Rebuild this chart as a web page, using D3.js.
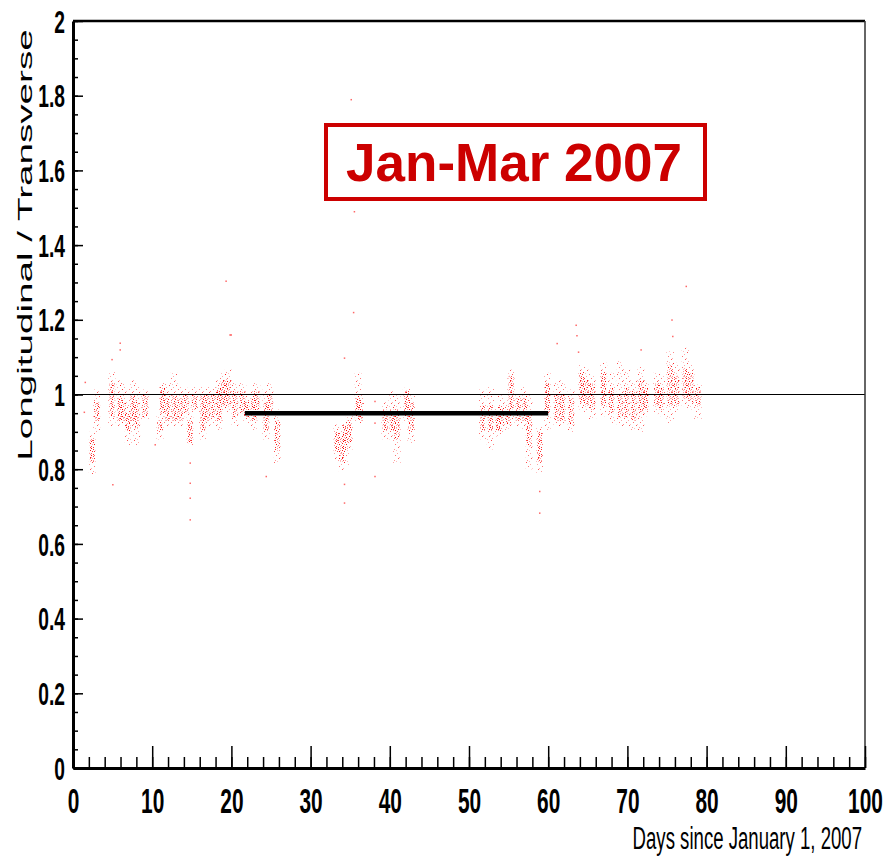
<!DOCTYPE html>
<html>
<meta charset="utf-8">
<style>
body { margin: 0; background: #fff; }
svg { display: block; font-family: "Liberation Sans", Arial, sans-serif; }
.axis line, .axis path { stroke: #000; }
</style>
<body>
<svg id="chart" width="893" height="864"></svg>
<script src="https://d3js.org/d3.v7.min.js"></script>
<script>
// streaks of points: [day, low, high, coreLow, coreHigh]
var streaks = [
  [2.44, 0.786, 0.900, 0.82, 0.88],
  [2.99, 0.897, 1.013, 0.93, 0.98],
  [4.90, 0.915, 1.060, 0.94, 1.03],
  [5.93, 0.915, 1.040, 0.93, 0.99],
  [6.35, 0.915, 1.030, 0.93, 0.98],
  [6.99, 0.862, 0.978, 0.90, 0.95],
  [7.53, 0.915, 1.040, 0.93, 1.00],
  [8.04, 0.862, 1.022, 0.91, 0.98],
  [9.09, 0.933, 1.013, 0.94, 1.00],
  [10.98, 0.879, 0.942, 0.90, 0.93],
  [11.32, 0.942, 1.031, 0.95, 1.02],
  [11.91, 0.915, 1.030, 0.93, 0.99],
  [12.75, 0.915, 1.058, 0.93, 1.00],
  [13.51, 0.915, 1.022, 0.93, 0.99],
  [14.27, 0.942, 1.018, 0.95, 1.00],
  [14.77, 0.862, 0.942, 0.87, 0.93],
  [15.32, 0.951, 1.022, 0.96, 1.00],
  [16.37, 0.879, 1.022, 0.90, 1.00],
  [16.96, 0.915, 1.022, 0.93, 1.00],
  [17.72, 0.924, 1.022, 0.94, 1.00],
  [18.48, 0.906, 1.040, 0.93, 1.02],
  [18.98, 0.960, 1.058, 0.97, 1.04],
  [19.61, 0.951, 1.067, 0.97, 1.04],
  [20.45, 0.915, 1.031, 0.94, 1.01],
  [21.42, 0.942, 1.031, 0.95, 1.01],
  [21.93, 0.924, 0.996, 0.94, 0.98],
  [22.85, 0.906, 1.013, 0.93, 0.99],
  [23.19, 0.951, 1.031, 0.96, 1.01],
  [24.37, 0.879, 1.013, 0.90, 0.98],
  [24.87, 0.942, 1.031, 0.95, 1.00],
  [25.80, 0.817, 0.960, 0.85, 0.93],
  [33.30, 0.826, 0.920, 0.85, 0.90],
  [33.90, 0.795, 0.906, 0.82, 0.89],
  [34.40, 0.810, 0.933, 0.85, 0.92],
  [34.90, 0.853, 0.942, 0.87, 0.93],
  [36.00, 0.924, 1.058, 0.94, 0.99],
  [36.30, 0.924, 1.000, 0.93, 0.98],
  [39.40, 0.880, 0.982, 0.90, 0.96],
  [40.30, 0.880, 1.010, 0.90, 0.96],
  [40.90, 0.817, 1.000, 0.88, 0.96],
  [42.10, 0.924, 1.018, 0.94, 1.01],
  [42.70, 0.870, 1.000, 0.90, 0.98],
  [51.70, 0.880, 1.013, 0.90, 0.97],
  [52.70, 0.853, 1.022, 0.90, 0.97],
  [53.70, 0.888, 0.969, 0.90, 0.95],
  [54.10, 0.897, 1.000, 0.92, 0.97],
  [54.97, 0.906, 0.978, 0.92, 0.96],
  [55.30, 0.933, 1.067, 0.96, 1.05],
  [56.20, 0.915, 1.004, 0.93, 0.99],
  [57.00, 0.906, 1.022, 0.93, 0.99],
  [57.60, 0.800, 1.000, 0.86, 0.95],
  [58.90, 0.790, 0.915, 0.82, 0.90],
  [59.90, 0.906, 1.058, 0.95, 1.03],
  [61.10, 0.915, 1.031, 0.93, 1.00],
  [61.80, 0.915, 1.040, 0.93, 1.00],
  [62.90, 0.897, 1.013, 0.92, 0.99],
  [64.20, 0.960, 1.080, 0.98, 1.06],
  [64.80, 0.951, 1.067, 0.97, 1.04],
  [65.60, 0.933, 1.049, 0.96, 1.03],
  [67.00, 0.942, 1.085, 0.97, 1.06],
  [68.00, 0.924, 1.058, 0.95, 1.02],
  [69.10, 0.915, 1.089, 0.94, 1.00],
  [69.90, 0.915, 1.067, 0.94, 1.02],
  [70.80, 0.906, 1.040, 0.93, 1.01],
  [71.70, 0.897, 1.076, 0.95, 1.04],
  [72.30, 0.942, 1.040, 0.96, 1.02],
  [73.70, 0.951, 1.058, 0.97, 1.03],
  [74.30, 0.942, 1.049, 0.96, 1.02],
  [75.40, 0.924, 1.116, 0.97, 1.08],
  [76.20, 0.951, 1.085, 0.97, 1.05],
  [77.30, 0.969, 1.125, 0.99, 1.07],
  [78.00, 0.960, 1.080, 0.98, 1.06],
  [78.90, 0.933, 1.027, 0.97, 1.02]
];

// isolated points: [day, value]
var outliers = [
  [1.52, 1.033], [1.40, 0.953], [5.00, 0.759], [5.93, 1.138], [5.93, 1.120],
  [4.90, 1.094], [10.35, 0.866], [14.77, 0.817], [14.77, 0.763], [14.77, 0.723],
  [14.77, 0.665], [19.80, 1.160], [19.30, 1.304], [19.95, 1.160], [24.37, 0.781],
  [34.25, 1.098], [34.25, 0.760], [34.25, 0.710], [35.10, 1.790], [35.50, 1.490],
  [35.40, 1.220], [38.10, 0.982], [38.10, 0.924], [38.10, 0.781], [58.90, 0.741],
  [58.90, 0.683], [61.10, 1.137], [63.60, 1.158], [63.80, 1.114], [75.70, 1.156],
  [71.70, 1.120], [63.50, 1.186], [77.40, 1.290], [75.60, 1.200]
];

var refLevel = 1;
var meanLine = { from: 21.7, to: 60, value: 0.95 };
var xMajor = d3.range(0, 101, 10);
var xMinor = d3.range(0, 101, 2);
var yMajor = d3.range(0, 2.001, 0.2);
var yMinor = d3.range(0, 2.001, 0.05);
var titleText = "Jan-Mar 2007";
var xTitle = "Days since January 1, 2007";
var yTitle = "Longitudinal / Transverse";

var svg = d3.select("#chart");
var x = d3.scaleLinear().domain([0, 100]).range([73, 865]);
var y = d3.scaleLinear().domain([0, 2]).range([768, 21]);

// speckle textures for the point clouds (irregular dot layout in each tile)
var defs = svg.append("defs");
function speckle(id, w, h, dots) {
  var p = defs.append("pattern").attr("id", id)
    .attr("patternUnits", "userSpaceOnUse").attr("width", w).attr("height", h);
  dots.forEach(function(d) {
    p.append("rect").attr("x", d[0]).attr("y", d[1]).attr("width", 1).attr("height", 1)
      .attr("fill", "#ff0000").attr("fill-opacity", d[2]);
  });
}
speckle("sparse", 7, 11, [[1,0,.7],[5,2,.35],[3,4,.55],[0,6,.3],[6,7,.65],[2,9,.4],[4,10,.25]]);
speckle("dense", 7, 7, [[0,0,.95],[4,0,.4],[2,1,.7],[6,2,.9],[1,3,.35],[3,3,1],
  [5,4,.5],[0,5,.65],[2,6,.8],[6,6,.35],[4,5,.3]]);

// points
svg.append("g").selectAll("rect").data(streaks).enter().append("rect")
  .attr("x", function(d) { return x(d[0]) - 3.5; })
  .attr("width", 7)
  .attr("y", function(d) { return y(d[2]); })
  .attr("height", function(d) { return y(d[1]) - y(d[2]); })
  .attr("fill", "url(#sparse)");
svg.append("g").selectAll("rect").data(streaks).enter().append("rect")
  .attr("x", function(d) { return x(d[0]) - 2.5; })
  .attr("width", 5)
  .attr("y", function(d) { return y(d[4]); })
  .attr("height", function(d) { return y(d[3]) - y(d[4]); })
  .attr("fill", "url(#dense)");
svg.append("g").selectAll("rect").data(outliers).enter().append("rect")
  .attr("x", function(d) { return x(d[0]) - 0.5; })
  .attr("y", function(d) { return y(d[1]) - 0.5; })
  .attr("width", 1.5).attr("height", 1.5)
  .attr("fill", "#ff0000").attr("fill-opacity", 0.6);

// reference line at 1 and the mean bar
svg.append("line")
  .attr("x1", x(0)).attr("x2", x(100)).attr("y1", y(refLevel)).attr("y2", y(refLevel))
  .attr("stroke", "#000").attr("stroke-width", 1.2);
svg.append("line")
  .attr("x1", x(meanLine.from)).attr("x2", x(meanLine.to))
  .attr("y1", y(meanLine.value)).attr("y2", y(meanLine.value))
  .attr("stroke", "#000").attr("stroke-width", 4.5);

// frame top and right
svg.append("line").attr("x1", x(0)).attr("x2", x(100)).attr("y1", y(2)).attr("y2", y(2))
  .attr("stroke", "#000").attr("stroke-width", 2.5);
svg.append("line").attr("x1", x(100)).attr("x2", x(100)).attr("y1", y(2)).attr("y2", y(0))
  .attr("stroke", "#333").attr("stroke-width", 1.5);

// x axis
var gxMinor = svg.append("g").attr("class", "axis").attr("transform", "translate(0," + y(0) + ")")
  .call(d3.axisBottom(x).tickValues(xMinor).tickSize(-11).tickSizeOuter(0).tickFormat(""));
gxMinor.select(".domain").remove();
gxMinor.selectAll("line").attr("stroke-width", 1.5);
var gx = svg.append("g").attr("class", "axis").attr("transform", "translate(0," + y(0) + ")")
  .call(d3.axisBottom(x).tickValues(xMajor).tickSize(-22).tickSizeOuter(0).tickFormat(d3.format("d")));
gx.select(".domain").attr("stroke-width", 3);
gx.selectAll("line").attr("stroke-width", 1.5).attr("stroke", "#444");
gx.selectAll("text")
  .attr("y", 0).attr("dy", 0)
  .attr("transform", "translate(0,45) scale(0.58,1)")
  .attr("font-size", 36).attr("font-weight", "bold")
  .attr("font-family", "Liberation Sans, Arial, sans-serif").attr("fill", "#000");

// y axis
var gyMinor = svg.append("g").attr("class", "axis").attr("transform", "translate(" + x(0) + ",0)")
  .call(d3.axisLeft(y).tickValues(yMinor).tickSize(-5).tickSizeOuter(0).tickFormat(""));
gyMinor.select(".domain").remove();
gyMinor.selectAll("line").attr("stroke-width", 1.5);
var gy = svg.append("g").attr("class", "axis").attr("transform", "translate(" + x(0) + ",0)")
  .call(d3.axisLeft(y).tickValues(yMajor).tickSize(-10).tickSizeOuter(0)
    .tickFormat(function(d) { return String(+d.toFixed(1)); }));
gy.select(".domain").attr("stroke-width", 3);
gy.selectAll("line").attr("stroke-width", 1.5);
gy.selectAll("text")
  .attr("x", 0).attr("dy", "0.36em")
  .attr("text-anchor", "end")
  .attr("transform", "translate(-8,0) scale(0.62,1)")
  .attr("font-size", 31).attr("font-weight", "bold")
  .attr("font-family", "Liberation Sans, Arial, sans-serif").attr("fill", "#000");

// axis titles
svg.append("text")
  .attr("transform", "translate(862,849) scale(0.6,1)")
  .attr("text-anchor", "end")
  .attr("font-size", 31)
  .text(xTitle);
svg.append("text")
  .attr("transform", "translate(32,245) rotate(-90) scale(1.84,1)")
  .attr("text-anchor", "middle")
  .attr("font-size", 21)
  .text(yTitle);

// title box
svg.append("rect")
  .attr("x", 326).attr("y", 125).attr("width", 379).attr("height", 74)
  .attr("fill", "#fff").attr("stroke", "#cc0000").attr("stroke-width", 4);
svg.append("text")
  .attr("x", 514).attr("y", 181)
  .attr("text-anchor", "middle")
  .attr("font-size", 53).attr("font-weight", "bold")
  .attr("fill", "#cc0000")
  .text(titleText);
</script>
</body>
</html>
